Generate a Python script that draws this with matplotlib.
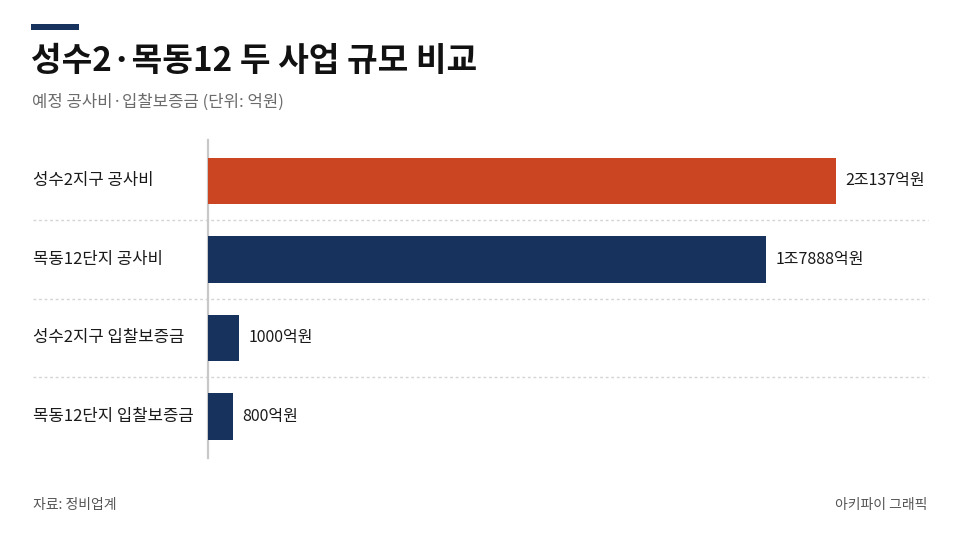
import matplotlib
matplotlib.use("Agg")
import matplotlib.pyplot as plt
from matplotlib.patches import Rectangle
import matplotlib.transforms as mtransforms

plt.rcParams['font.family'] = ['Noto Sans CJK KR', 'DejaVu Sans']

categories = ["성수2지구 공사비", "목동12단지 공사비", "성수2지구 입찰보증금", "목동12단지 입찰보증금"]
values = [20137, 17888, 1000, 800]
value_labels = ["2조137억원", "1조7888억원", "1000억원", "800억원"]
bar_colors = ["#CB4522", "#18325E", "#18325E", "#18325E"]

title = "성수2·목동12 두 사업 규모 비교"
subtitle = "예정 공사비·입찰보증금 (단위: 억원)"
source = "자료: 정비업계"
credit = "아키파이 그래픽"

W, H = 960, 540
fig = plt.figure(figsize=(9.6, 5.4), dpi=100)
fig.patch.set_facecolor("white")

def fx(px):
    return px / W

def fy(py):
    return 1 - py / H

# accent bar
fig.patches.append(Rectangle((fx(31), fy(30)), fx(48), 6 / H, transform=fig.transFigure,
                             facecolor="#18325E", edgecolor="none"))
fig.text(fx(31), fy(61), title, fontsize=24, fontweight="bold", color="#111111",
         va="center", ha="left")
fig.text(fx(32), fy(102), subtitle, fontsize=12, color="#6b6b6b", va="center", ha="left")

ax_left, ax_right, ax_top, ax_bottom = 208, 928, 140, 458
ax = fig.add_axes([fx(ax_left), fy(ax_bottom), fx(ax_right - ax_left), (ax_bottom - ax_top) / H])
ax.set_facecolor("none")

ypos = list(range(len(categories)))
ax.barh(ypos, values, height=0.59, color=bar_colors, zorder=3)
xmax = max(values) * (ax_right - ax_left) / 628
ax.set_xlim(0, xmax)
ax.set_ylim(3.53, -0.52)

for y, v, lab in zip(ypos, values, value_labels):
    ax.annotate(lab, (v, y), xytext=(7, 0), textcoords="offset points", va="center", ha="left",
                fontsize=11.5, color="#1a1a1a")

trans = mtransforms.blended_transform_factory(fig.transFigure, ax.transData)
for y, cat in zip(ypos, categories):
    ax.text(fx(33), y, cat, transform=trans, fontsize=12, fontweight="medium", color="#1a1a1a",
            va="center", ha="left")

for y in [0.5, 1.5, 2.5]:
    ax.plot([fx(33), fx(928)], [y, y], transform=trans, color="#d4d4d4", lw=1,
            linestyle=(0, (2, 2)), clip_on=False, zorder=1)

for s in ["top", "right", "bottom"]:
    ax.spines[s].set_visible(False)
ax.spines["left"].set_color("#c8c8c8")
ax.spines["left"].set_linewidth(1.6)
ax.set_xticks([])
ax.set_yticks([])

fig.text(fx(33), fy(505), source, fontsize=10, color="#555555", va="center", ha="left")
fig.text(fx(927), fy(505), credit, fontsize=10, color="#555555", va="center", ha="right")

fig.savefig("out.png", dpi=100, facecolor="white")
